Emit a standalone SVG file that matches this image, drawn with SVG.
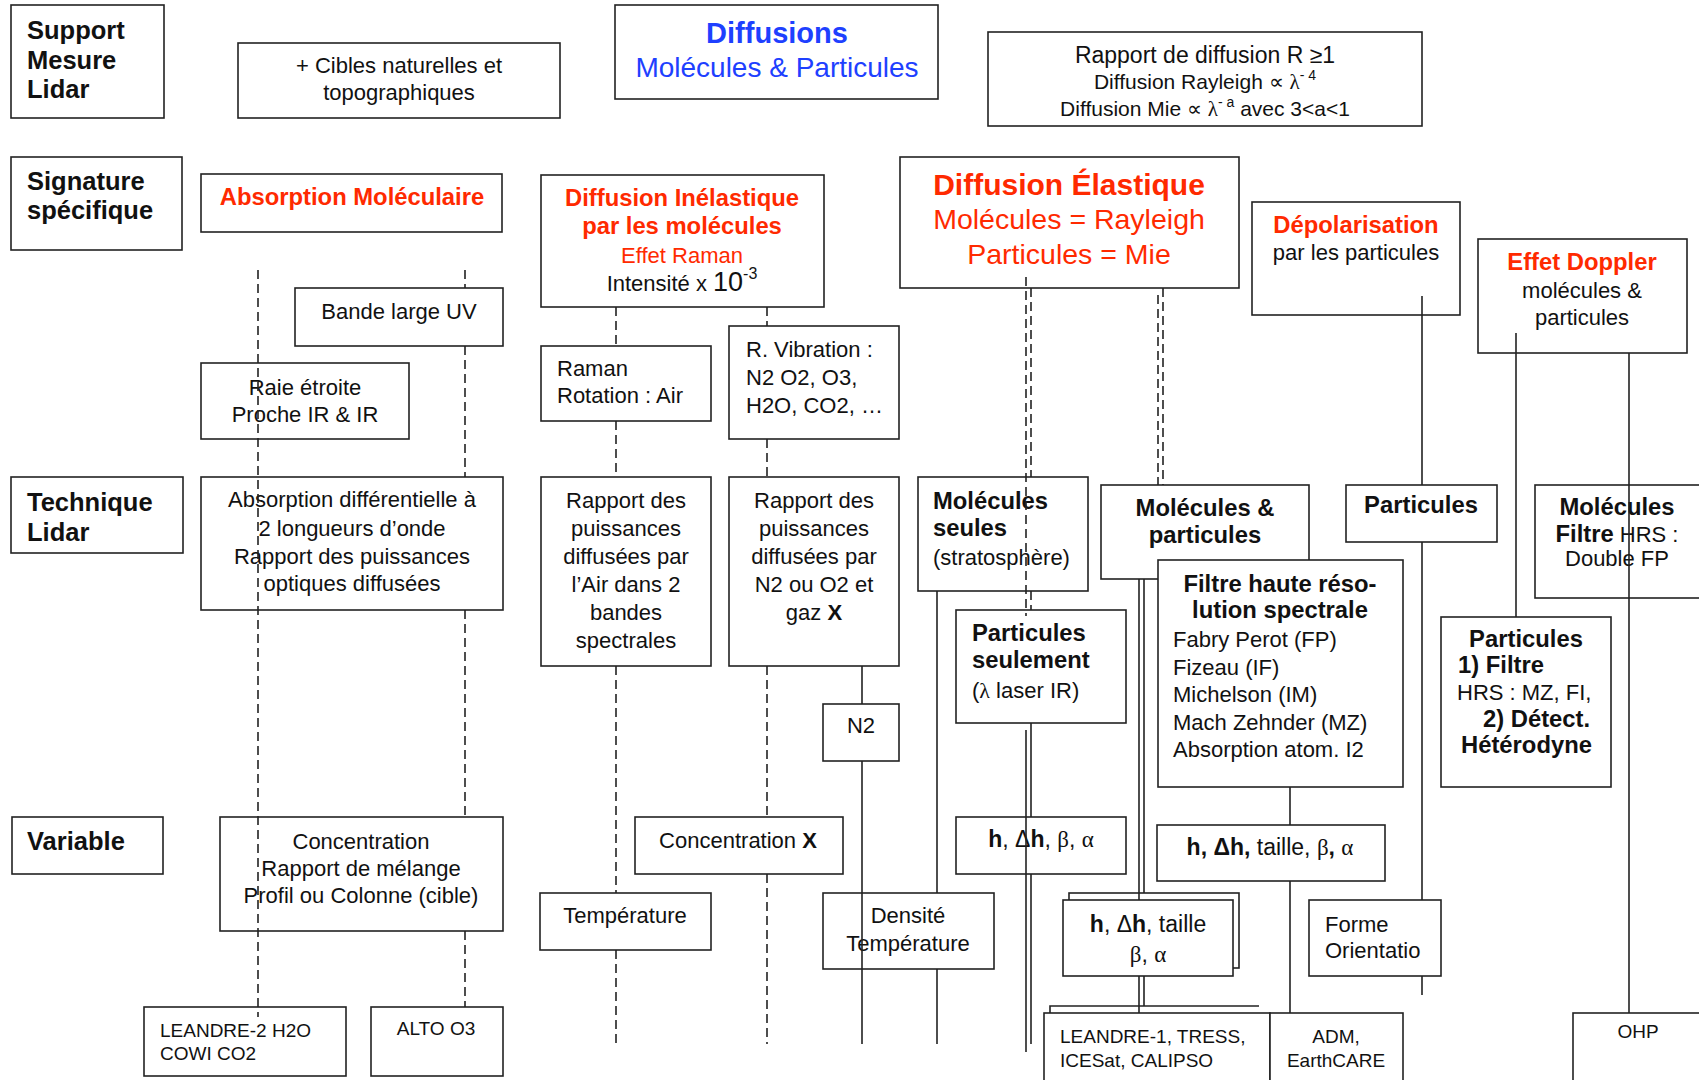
<svg xmlns="http://www.w3.org/2000/svg" width="1699" height="1080" viewBox="0 0 1699 1080">
<style>
.bx{fill:#fff;stroke:#222;stroke-width:1.6}
.t{font-family:"Liberation Sans",Arial,sans-serif;font-size:22px;fill:#111}
.c{text-anchor:middle}
.b{font-weight:bold}
.nb{font-weight:bold;font-size:23.8px}
.lbl{font-family:"Liberation Sans",Arial,sans-serif;font-size:25.5px;font-weight:bold;fill:#111}
.red{fill:#ff2a00}
.blue{fill:#1e40ff}
.sm{font-size:19px}
.md{font-size:21px}
.h2{font-size:23.8px}
.big{font-size:28.5px}
.gr{font-family:"Liberation Serif","Times New Roman",serif}
.ln{stroke:#222;stroke-width:1.6;fill:none}
.ds{stroke:#222;stroke-width:1.6;fill:none;stroke-dasharray:9 5}
</style>
<rect width="1699" height="1080" fill="#fff"/>

<g id="row-support"><rect class="bx" x="11" y="5" width="153" height="113"/><text class="lbl" x="27" y="39">Support</text><text class="lbl" x="27" y="69">Mesure</text><text class="lbl" x="27" y="98">Lidar</text></g>
<g id="row-signature"><rect class="bx" x="11" y="157" width="171" height="93"/><text class="lbl" x="27" y="190">Signature</text><text class="lbl" x="27" y="219">spécifique</text></g>
<g id="row-technique"><rect class="bx" x="11" y="477" width="172" height="76"/><text class="lbl" x="27" y="511">Technique</text><text class="lbl" x="27" y="541">Lidar</text></g>
<g id="row-variable"><rect class="bx" x="12" y="817" width="151" height="57"/><text class="lbl" x="27" y="850">Variable</text></g>

<g id="cibles"><rect class="bx" x="238" y="43" width="322" height="75"/><text class="t c" x="399" y="73">+ Cibles naturelles et</text><text class="t c" x="399" y="100">topographiques</text></g>
<g id="diffusions"><rect class="bx" x="615" y="5" width="323" height="94"/><text class="t c b blue" x="777" y="43" style="font-size:29px">Diffusions</text><text class="t c blue" x="777" y="77" style="font-size:28px">Molécules &amp; Particules</text></g>
<g id="rapport-diffusion"><rect class="bx" x="988" y="32" width="434" height="94"/><text class="t c" x="1205" y="63" style="font-size:23px">Rapport de diffusion R ≥1</text><text class="t c md" x="1205" y="89">Diffusion Rayleigh ∝ <tspan class="gr">λ</tspan><tspan font-size="14" dy="-9">- 4</tspan></text><text class="t c md" x="1205" y="116">Diffusion Mie ∝ <tspan class="gr">λ</tspan><tspan font-size="14" dy="-9">- a</tspan><tspan dy="9">  avec 3&lt;a&lt;1</tspan></text></g>

<g id="absorption-moleculaire"><rect class="bx" x="201" y="174" width="301" height="58"/><text class="t c b red h2" x="352" y="205">Absorption Moléculaire</text></g>
<g id="diffusion-inelastique"><rect class="bx" x="541" y="175" width="283" height="132"/><text class="t c b red h2" x="682" y="206">Diffusion Inélastique</text><text class="t c b red h2" x="682" y="234">par les molécules</text><text class="t c red" x="682" y="263">Effet Raman</text><text class="t c" x="682" y="291">Intensité x <tspan font-size="27">10</tspan><tspan font-size="16" dy="-12">-3</tspan></text></g>
<g id="diffusion-elastique"><rect class="bx" x="900" y="157" width="339" height="131"/><text class="t c b red" x="1069" y="195" style="font-size:30px">Diffusion Élastique</text><text class="t c red big" x="1069" y="229">Molécules = Rayleigh</text><text class="t c red big" x="1069" y="264">Particules = Mie</text></g>
<g id="depolarisation"><rect class="bx" x="1252" y="202" width="208" height="113"/><text class="t c b red h2" x="1356" y="233">Dépolarisation</text><text class="t c" x="1356" y="260">par les particules</text></g>
<g id="effet-doppler"><rect class="bx" x="1478" y="239" width="209" height="114"/><text class="t c b red h2" x="1582" y="270">Effet Doppler</text><text class="t c" x="1582" y="298">molécules &amp;</text><text class="t c" x="1582" y="325">particules</text></g>

<g id="bande-large"><rect class="bx" x="295" y="288" width="208" height="58"/><text class="t c" x="399" y="319">Bande large UV</text></g>
<g id="raie-etroite"><rect class="bx" x="201" y="363" width="208" height="76"/><text class="t c" x="305" y="395">Raie étroite</text><text class="t c" x="305" y="422">Proche IR &amp; IR</text></g>
<g id="raman-rotation"><rect class="bx" x="541" y="346" width="170" height="75"/><text class="t" x="557" y="376">Raman</text><text class="t" x="557" y="403">Rotation : Air</text></g>
<g id="raman-vibration"><rect class="bx" x="729" y="326" width="170" height="113"/><text class="t" x="746" y="357">R. Vibration :</text><text class="t" x="746" y="385">N2 O2, O3,</text><text class="t" x="746" y="413">H2O, CO2, …</text></g>

<g id="absorption-diff"><rect class="bx" x="201" y="477" width="302" height="133"/><text class="t c" x="352" y="507">Absorption différentielle à</text><text class="t c" x="352" y="536">2 longueurs d’onde</text><text class="t c" x="352" y="564">Rapport des puissances</text><text class="t c" x="352" y="591">optiques diffusées</text></g>
<g id="rapport-air"><rect class="bx" x="541" y="477" width="170" height="189"/><text class="t c" x="626" y="508">Rapport des</text><text class="t c" x="626" y="536">puissances</text><text class="t c" x="626" y="564">diffusées par</text><text class="t c" x="626" y="592">l’Air dans 2</text><text class="t c" x="626" y="620">bandes</text><text class="t c" x="626" y="648">spectrales</text></g>
<g id="rapport-n2"><rect class="bx" x="729" y="477" width="170" height="189"/><text class="t c" x="814" y="508">Rapport des</text><text class="t c" x="814" y="536">puissances</text><text class="t c" x="814" y="564">diffusées par</text><text class="t c" x="814" y="592">N2 ou O2 et</text><text class="t c" x="814" y="620">gaz <tspan class="b">X</tspan></text></g>
<g id="molecules-seules"><rect class="bx" x="918" y="477" width="170" height="114"/><text class="t nb" x="933" y="509">Molécules</text><text class="t nb" x="933" y="536">seules</text><text class="t" x="933" y="565">(stratosphère)</text></g>
<g id="particules-seulement"><rect class="bx" x="956" y="610" width="170" height="113"/><text class="t nb" x="972" y="641">Particules</text><text class="t nb" x="972" y="668">seulement</text><text class="t" x="972" y="698">(<tspan class="gr">λ</tspan> laser IR)</text></g>
<g id="molecules-particules"><rect class="bx" x="1101" y="485" width="208" height="94"/><text class="t c nb" x="1205" y="516">Molécules &amp;</text><text class="t c nb" x="1205" y="543">particules</text></g>
<g id="filtre-hrs"><rect class="bx" x="1158" y="560" width="245" height="227"/><text class="t c nb" x="1280" y="592">Filtre haute réso-</text><text class="t c nb" x="1280" y="618">lution spectrale</text><text class="t" x="1173" y="647">Fabry Perot (FP)</text><text class="t" x="1173" y="675">Fizeau (IF)</text><text class="t" x="1173" y="702">Michelson (IM)</text><text class="t" x="1173" y="730">Mach Zehnder (MZ)</text><text class="t" x="1173" y="757">Absorption atom. I2</text></g>
<g id="particules"><rect class="bx" x="1346" y="485" width="151" height="57"/><text class="t c nb" x="1421" y="513">Particules</text></g>
<g id="molecules-filtre"><rect class="bx" x="1535" y="485" width="175" height="113"/><text class="t c nb" x="1617" y="515">Molécules</text><text class="t c" x="1617" y="542"><tspan class="nb">Filtre</tspan> HRS :</text><text class="t c" x="1617" y="566">Double FP</text></g>
<g id="particules-heterodyne"><rect class="bx" x="1441" y="617" width="170" height="170"/><text class="t c nb" x="1526" y="647">Particules</text><text class="t nb" x="1458" y="673">1) Filtre</text><text class="t" x="1457" y="700">HRS : MZ, FI,</text><text class="t nb" x="1483" y="727">2) Détect.</text><text class="t nb" x="1461" y="753">Hétérodyne</text></g>
<g id="n2"><rect class="bx" x="823" y="704" width="76" height="57"/><text class="t c" x="861" y="733">N2</text></g>

<g id="concentration"><rect class="bx" x="220" y="817" width="283" height="114"/><text class="t c" x="361" y="849">Concentration</text><text class="t c" x="361" y="876">Rapport de mélange</text><text class="t c" x="361" y="903">Profil ou Colonne (cible)</text></g>
<g id="concentration-x"><rect class="bx" x="635" y="817" width="208" height="57"/><text class="t c" x="738" y="848">Concentration <tspan class="b">X</tspan></text></g>
<g id="temperature"><rect class="bx" x="540" y="893" width="171" height="57"/><text class="t c" x="625" y="923">Température</text></g>
<g id="densite"><rect class="bx" x="823" y="893" width="171" height="76"/><text class="t c" x="908" y="923">Densité</text><text class="t c" x="908" y="951">Température</text></g>
<g id="h-dh-beta-alpha"><rect class="bx" x="956" y="817" width="170" height="57"/><text class="t c" x="1041" y="847" style="font-size:23px"><tspan class="b">h</tspan>, Δ<tspan class="b">h</tspan>, <tspan class="gr">β</tspan>, <tspan class="gr">α</tspan></text></g>
<g id="h-dh-taille-beta-alpha"><rect class="bx" x="1157" y="825" width="228" height="56"/><text class="t c" x="1270" y="855" style="font-size:23px"><tspan class="b">h, Δh,</tspan> taille, <tspan class="gr">β</tspan><tspan class="b">,</tspan> <tspan class="gr">α</tspan></text></g>
<g id="h-dh-taille"><rect class="bx" x="1069" y="893" width="170" height="75"/><rect class="bx" x="1063" y="900" width="170" height="76"/><text class="t c" x="1148" y="932" style="font-size:23px"><tspan class="b">h</tspan>, Δ<tspan class="b">h</tspan>, taille</text><text class="t c" x="1148" y="962" style="font-size:23px"><tspan class="gr">β</tspan>, <tspan class="gr">α</tspan></text></g>
<g id="forme"><rect class="bx" x="1309" y="900" width="132" height="76"/><text class="t" x="1325" y="932">Forme</text><text class="t" x="1325" y="958">Orientatio</text></g>

<g id="leandre2"><rect class="bx" x="144" y="1007" width="202" height="69"/><text class="t sm" x="160" y="1037">LEANDRE-2 H2O</text><text class="t sm" x="160" y="1060">COWI CO2</text></g>
<g id="alto"><rect class="bx" x="371" y="1007" width="132" height="69"/><text class="t c sm" x="436" y="1035">ALTO O3</text></g>
<g id="leandre1"><path class="ln" d="M1050 1013V1006H1259"/><rect class="bx" x="1044" y="1013" width="226" height="80"/><text class="t sm" x="1060" y="1043">LEANDRE-1, TRESS,</text><text class="t sm" x="1060" y="1067">ICESat, CALIPSO</text></g>
<g id="adm"><rect class="bx" x="1270" y="1013" width="133" height="80"/><text class="t c sm" x="1336" y="1043">ADM,</text><text class="t c sm" x="1336" y="1067">EarthCARE</text></g>
<g id="ohp"><rect class="bx" x="1573" y="1013" width="140" height="80"/><text class="t c sm" x="1638" y="1038">OHP</text></g>

<g id="connectors">
<path class="ds" d="M258 270V1017"/>
<path class="ds" d="M465 270V288M465 346V477M465 610V817M465 931V1007"/>
<path class="ds" d="M616 307V346M616 421V477M616 666V893M616 950V1044"/>
<path class="ds" d="M767 307V326M767 439V477M767 666V817M767 874V1044"/>
<path class="ds" d="M1026 277V616"/>
<path class="ds" d="M1031 288V477M1031 591V610"/>
<path class="ds" d="M1158 295V485"/>
<path class="ds" d="M1163 288V485"/>
<path class="ln" d="M862 666V704M862 761V1044"/>
<path class="ln" d="M937 591V893M937 969V1044"/>
<path class="ln" d="M1026 730V1052"/>
<path class="ln" d="M1031 723V817M1031 874V1044"/>
<path class="ln" d="M1139 579V900M1139 976V1013"/>
<path class="ln" d="M1144 579V893M1144 976V1006"/>
<path class="ln" d="M1290 787V825M1290 881V1013"/>
<path class="ln" d="M1422 296V485M1422 542V900M1422 976V995"/>
<path class="ln" d="M1516 333V617"/>
<path class="ln" d="M1629 353V1013"/>
</g>
</svg>
